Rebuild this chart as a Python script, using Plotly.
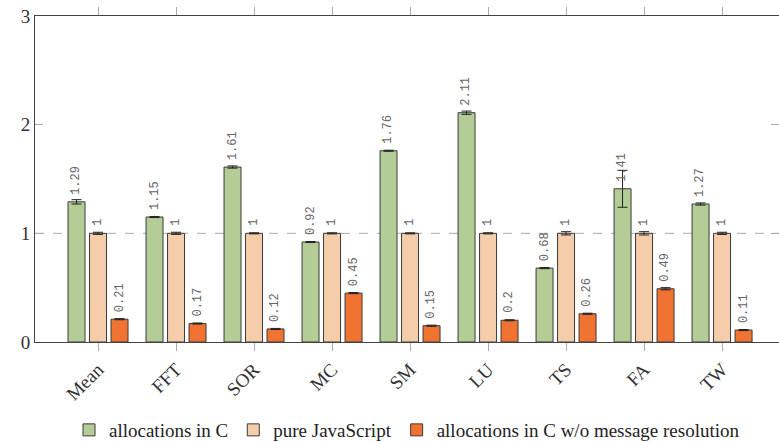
import plotly.graph_objects as go

categories = ["Mean", "FFT", "SOR", "MC", "SM", "LU", "TS", "FA", "TW"]
alloc_c = [1.29, 1.15, 1.61, 0.92, 1.76, 2.11, 0.68, 1.41, 1.27]
alloc_c_err = [0.02, 0.005, 0.01, 0.005, 0.005, 0.015, 0.005, 0.17, 0.01]
pure_js = [1, 1, 1, 1, 1, 1, 1, 1, 1]
pure_js_err = [0.01, 0.01, 0.005, 0.005, 0.005, 0.005, 0.015, 0.015, 0.01]
alloc_nomsg = [0.21, 0.17, 0.12, 0.45, 0.15, 0.2, 0.26, 0.49, 0.11]
alloc_nomsg_err = [0.005, 0.005, 0.005, 0.005, 0.005, 0.005, 0.005, 0.01, 0.005]
y_ticks = [0, 1, 2, 3]

series = [
    ("allocations in C", alloc_c, alloc_c_err, "#b4cd96"),
    ("pure JavaScript", pure_js, pure_js_err, "#f6cdab"),
    ("allocations in C w/o message resolution", alloc_nomsg, alloc_nomsg_err, "#f07332"),
]
SERIF = "Liberation Serif"
MONO = "Liberation Mono"

def fmt(v):
    return f"{v:.2f}".rstrip("0").rstrip(".")

fig = go.Figure()
offsets = [-21.5, 0, 21.5]
for (name, vals, errs, color), off in zip(series, offsets):
    fig.add_trace(go.Bar(
        x=categories, y=vals, name=name,
        marker=dict(color=color, line=dict(color="#3a3a3a", width=1)),
        error_y=dict(type="data", array=errs, visible=True, color="#222", thickness=1, width=5),
    ))
    for c, v in zip(categories, vals):
        fig.add_annotation(x=c, y=v, xshift=off, yshift=5, text=fmt(v), textangle=-90,
                           showarrow=False, xanchor="center", yanchor="bottom",
                           font=dict(family=MONO, size=12, color="#666"))

fig.add_shape(type="line", xref="paper", yref="y", x0=0, x1=1, y0=1, y1=1,
              line=dict(color="#aaaaaa", width=1, dash="dash"), layer="below")

fig.update_layout(
    width=779, height=442,
    margin=dict(l=35, r=0, t=16, b=100, autoexpand=False),
    paper_bgcolor="white", plot_bgcolor="white",
    barmode="group", bargap=0.173, bargroupgap=0.21,
    font=dict(family=SERIF, color="#333"),
    showlegend=True,
    legend=dict(orientation="h", x=0.5, xanchor="center", y=-0.27, yanchor="middle",
                font=dict(family=SERIF, size=19, color="#222"),
                itemwidth=30, tracegroupgap=0),
)
fig.update_xaxes(
    range=[-0.808, 8.73], showline=True, linecolor="#444", linewidth=1, mirror="ticks",
    ticks="outside", ticklen=8, tickcolor="#aaa", tickangle=-45, automargin=False,
    tickfont=dict(family=SERIF, size=19, color="#333"), showgrid=False,
)
fig.update_yaxes(
    range=[0, 3], tickvals=y_ticks, showline=True, linecolor="#444", linewidth=1, mirror="ticks",
    ticks="inside", ticklen=8, tickcolor="#aaa", automargin=False,
    tickfont=dict(family=SERIF, size=19, color="#333"), showgrid=False, zeroline=False,
)
fig.write_html("out.html", config={"displayModeBar": False},
               post_script="document.body.style.margin='0';document.body.style.overflow='hidden';")
